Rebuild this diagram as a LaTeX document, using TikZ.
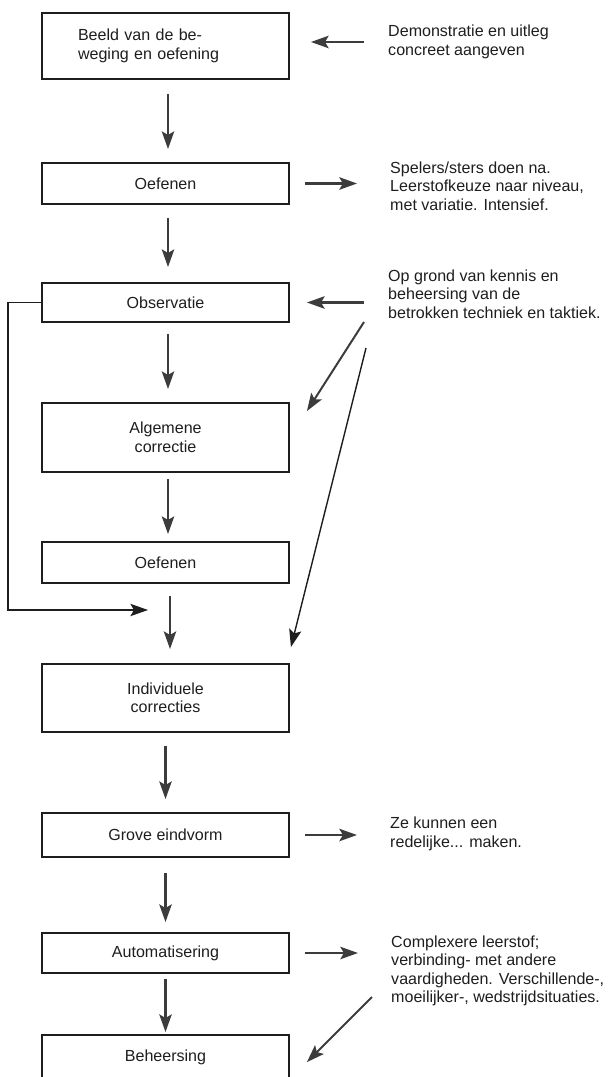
\documentclass[tikz,border=0pt]{standalone}
\usepackage{fontspec}
\setmainfont{Liberation Sans}
\usetikzlibrary{arrows.meta,calc}
\definecolor{ink}{RGB}{30,30,30}
\definecolor{lead}{RGB}{60,60,60}

\begin{document}
\begin{tikzpicture}[x=0.03cm,y=-0.03cm]

	\def\px{0.03cm}
	\def\boxw{247}

	\tikzset{line/.style={draw=lead,line width=2.3pt}}
	\tikzset{arrow/.style={line,-{Stealth[length=15pt,width=10.5pt,inset=3pt]}}}
	\tikzset{feed/.style={arrow,draw=ink,line width=1.2pt}}
	\tikzset{stepbox/.style={draw=ink,line width=1.6pt,minimum width=\boxw*\px,inner sep=0pt,align=center,text=ink,font=\fontsize{13.7}{15.8}\selectfont}}
	\tikzset{note/.style={anchor=west,align=left,inner sep=0pt,text=ink,font=\fontsize{13.7}{15.8}\selectfont}}

	\useasboundingbox (0,0) rectangle (611,1077);
	\clip (0,0) rectangle (611,1077);

	% steps
	\node[stepbox,minimum height=66*\px,text width=175*\px,align=left] (s1) at (165.5,46) {Beeld van de be-\\weging en oefening};
	\node[stepbox,minimum height=41*\px] (s2) at (165.5,183.5) {Oefenen};
	\node[stepbox,minimum height=39*\px] (s3) at (165.5,302.5) {Observatie};
	\node[stepbox,minimum height=69*\px] (s4) at (165.5,437.5) {Algemene\\correctie};
	\node[stepbox,minimum height=41*\px] (s5) at (165.5,562.5) {Oefenen};
	\node[stepbox,minimum height=68*\px] (s6) at (165.5,698) {Individuele\\correcties};
	\node[stepbox,minimum height=44*\px] (s7) at (165.5,835) {Grove eindvorm};
	\node[stepbox,minimum height=40*\px] (s8) at (165.5,953) {Automatisering};
	\node[stepbox,minimum height=45*\px] (s9) at (165.5,1057.5) {Beheersing};

	% remarks
	\node[note] (t1) at (388,42) {Demonstratie en uitleg\\concreet aangeven};
	\node[note] (t2) at (390,186) {Spelers/sters doen na.\\Leerstofkeuze naar niveau,\\met variatie. Intensief.};
	\node[note] (t3) at (388,294) {Op grond van kennis en\\beheersing van de\\betrokken techniek en taktiek.};
	\node[note] (t4) at (390,834) {Ze kunnen een\\redelijke... maken.};
	\node[note] (t5) at (391,971) {Complexere leerstof;\\verbinding- met andere\\vaardigheden. Verschillende-,\\moeilijker-, wedstrijdsituaties.};

	\draw[arrow,shorten <=14*\px,shorten >=13*\px] ([xshift=2.5*\px]s1.south) -- ([xshift=2.5*\px]s2.north);
	\draw[arrow,shorten <=13*\px,shorten >=15*\px] ([xshift=2.5*\px]s2.south) -- ([xshift=2.5*\px]s3.north);
	\draw[arrow,shorten <=11*\px,shorten >=13*\px] ([xshift=2.5*\px]s3.south) -- ([xshift=2.5*\px]s4.north);
	\draw[arrow,shorten <=6*\px,shorten >=7*\px] ([xshift=2.5*\px]s4.south) -- ([xshift=2.5*\px]s5.north);
	\draw[arrow,shorten <=12*\px,shorten >=14*\px] ([xshift=4.5*\px]s5.south) -- ([xshift=4.5*\px]s6.north);
	\draw[arrow,shorten <=13*\px,shorten >=13*\px] (s6.south) -- (s7.north);
	\draw[arrow,shorten <=15*\px,shorten >=10*\px] (s7.south) -- (s8.north);
	\draw[arrow,shorten <=5*\px,shorten >=2*\px] (s8.south) -- (s9.north);

	\draw[arrow,shorten <=24*\px,shorten >=21*\px] (t1.west) -- (t1.west -| s1.east);
	\draw[arrow,shorten <=15*\px,shorten >=33*\px] (s2.east) -- (s2.east -| t2.west);
	\draw[arrow,shorten <=24*\px,shorten >=17*\px] (s3.east -| t3.west) -- (s3.east);
	\draw[arrow,shorten <=15*\px,shorten >=33*\px] (s7.east) -- (s7.east -| t4.west);
	\draw[arrow,shorten <=15*\px,shorten >=33*\px] (s8.east) -- (s8.east -| t5.west);

	\coordinate (d1) at (364,322);
	\coordinate (d2) at (366,348);
	\coordinate (d3) at (372,997);
	\coordinate (fb) at (148,610);

	\draw[arrow,line width=1.7pt] (d1) -- ($(s4.north east)+(17,9)$);
	\draw[feed] (d2) -- ($(s6.north east)+(1,-16)$);
	\draw[arrow,line width=1.7pt] (d3) -- ($(s9.north east)+(17,28)$);
	\draw[feed] (s3.west) -- ++(-33,0) |- (fb);

\end{tikzpicture}
\end{document}
